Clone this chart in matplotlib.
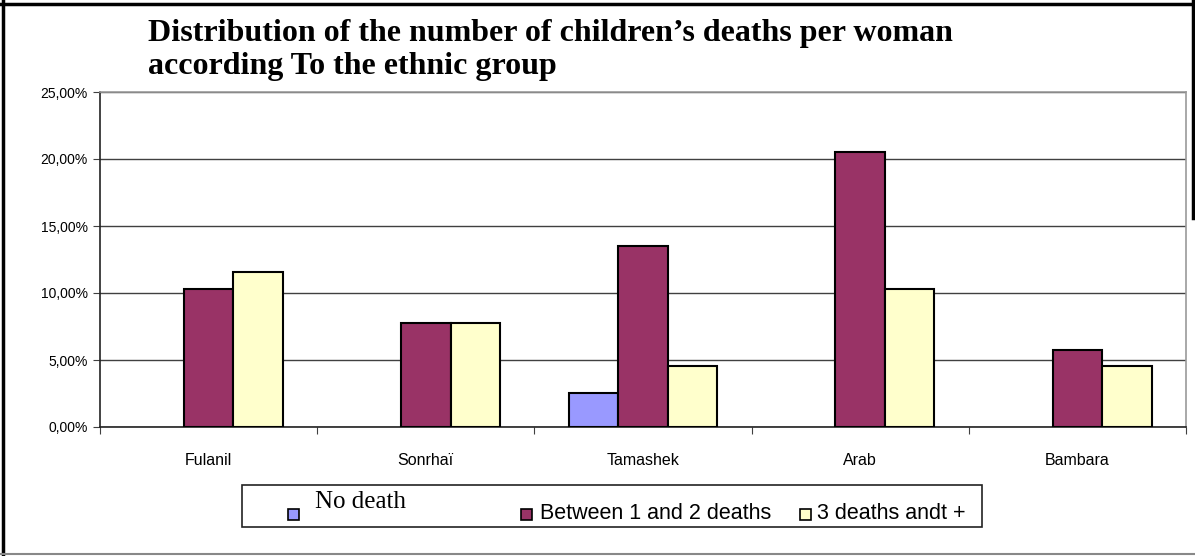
import numpy as np
import matplotlib
matplotlib.use("Agg")
import matplotlib.pyplot as plt
from matplotlib.patches import Rectangle
from matplotlib.lines import Line2D

# data (percent)
groups = ["Fulanil", "Sonrhaï", "Tamashek", "Arab", "Bambara"]
no_death = [0, 0, 2.56, 0, 0]
one_two = [10.3, 7.76, 13.5, 20.55, 5.77]
three_plus = [11.6, 7.76, 4.57, 10.3, 4.55]
series_names = ["No death", "Between 1 and 2 deaths", "3 deaths andt +"]
colors = ["#9999FF", "#993366", "#FFFFCC"]
yticks = [0, 5, 10, 15, 20, 25]

W, H = 1195, 556
fig = plt.figure(figsize=(W / 100, H / 100), dpi=100)
ax = fig.add_axes([100 / W, 1 - 427 / H, 1086 / W, 335 / H])

x = np.arange(len(groups))
bw = 0.228
for k, vals in enumerate([no_death, one_two, three_plus]):
    vals = np.array(vals, dtype=float)
    keep = vals > 0  # empty bars are not drawn in the original
    ax.bar(x[keep] + (k - 1) * bw, vals[keep], width=bw, color=colors[k],
           edgecolor="black", linewidth=1.5, zorder=3)

ax.set_xlim(-0.5, len(groups) - 0.5)
ax.set_ylim(0, 25)
ax.set_yticks(yticks)
ax.set_yticklabels([f"{v:.2f}".replace(".", ",") + "%" for v in yticks],
                   fontsize=10, family="Liberation Sans")
ax.yaxis.grid(True, color="#404040", linewidth=1, zorder=0)

ax.set_xticks(np.arange(-0.5, len(groups), 1.0))
ax.set_xticklabels([])
ax.set_xticks(x, minor=True)
ax.set_xticklabels(groups, minor=True, fontsize=11.5, family="Liberation Sans")
ax.tick_params(axis="x", which="minor", length=0, pad=18.5)
ax.tick_params(axis="x", which="major", direction="out", length=5, color="#404040")
ax.tick_params(axis="y", direction="out", length=5, color="#404040", pad=4)

ax.spines["left"].set_color("#222222")
ax.spines["bottom"].set_color("#222222")
ax.spines["top"].set_color("#999999")
ax.spines["right"].set_color("#999999")
for s in ax.spines.values():
    s.set_linewidth(1.2)

title_lines = ["Distribution of the number of children’s deaths per woman",
               "according To the ethnic group"]
for i, line in enumerate(title_lines):
    fig.text(148 / W, 1 - (41 + 33 * i) / H, line, family="Liberation Serif",
             weight="bold", fontsize=23, ha="left", va="baseline")

# legend box
lx0, ly0, lx1, ly1 = 242, 485, 982, 527
fig.patches.append(Rectangle((lx0 / W, 1 - ly1 / H), (lx1 - lx0) / W, (ly1 - ly0) / H,
                             transform=fig.transFigure, facecolor="white",
                             edgecolor="#222222", linewidth=1.2))
sq = 11
entries = [(288, 315, 508, "Liberation Serif", 18), (521, 540, 519, "Liberation Sans", 15.5),
           (800, 817, 519, "Liberation Sans", 15.5)]
for (sx, tx, base, fam, fs), name, c in zip(entries, series_names, colors):
    fig.patches.append(Rectangle((sx / W, 1 - 520 / H), sq / W, sq / H,
                                 transform=fig.transFigure, facecolor=c,
                                 edgecolor="black", linewidth=1.2))
    fig.text(tx / W, 1 - base / H, name, family=fam, fontsize=fs,
             ha="left", va="baseline")

# outer frame
fig.add_artist(Line2D([0, 1], [1 - 4 / H, 1 - 4 / H], transform=fig.transFigure, color="black", lw=2.5))
fig.add_artist(Line2D([3 / W, 3 / W], [0, 1], transform=fig.transFigure, color="black", lw=2.5))
fig.add_artist(Line2D([1193 / W, 1193 / W], [1 - 218 / H, 1], transform=fig.transFigure, color="black", lw=2.5))
fig.add_artist(Line2D([0, 1], [1 - 554 / H, 1 - 554 / H], transform=fig.transFigure, color="#888888", lw=1.5))

fig.savefig("out.png", dpi=100)
